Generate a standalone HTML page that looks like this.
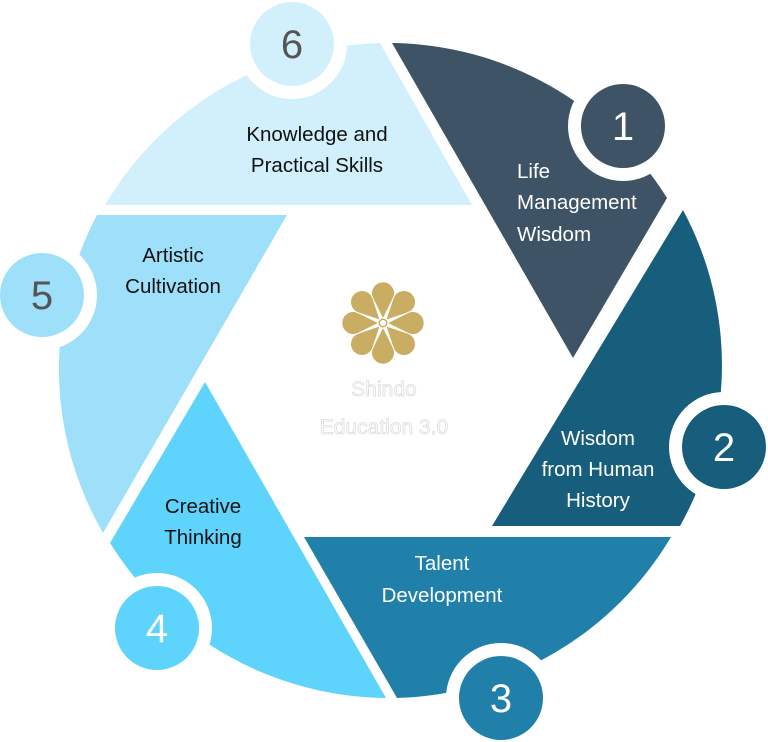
<!DOCTYPE html>
<html><head><meta charset="utf-8"><style>
html,body{margin:0;padding:0;background:#fff;}
svg{display:block}
text{font-family:"Liberation Sans",sans-serif;}
</style></head><body>
<svg width="768" height="742" viewBox="0 0 768 742" xmlns="http://www.w3.org/2000/svg">
<path d="M392,43 A329,329 0 0 1 667,198 L573,358 Z" fill="#3e5365"/>
<path d="M683,210 A329,329 0 0 1 680,526 L492,526 Z" fill="#165e7c"/>
<path d="M671,537 A329,329 0 0 1 397,698 L304,537 Z" fill="#2180aa"/>
<path d="M386,698 A329,329 0 0 1 110,543 L205,382 Z" fill="#5ed3fb"/>
<path d="M103,533 A329,329 0 0 1 97,215 L287,215 Z" fill="#9ee0fa"/>
<path d="M105,205 A329,329 0 0 1 380,43 L472,205 Z" fill="#d2f0fc"/>
<g>
<circle cx="623" cy="126" r="55" fill="#fff"/><circle cx="623" cy="126" r="42" fill="#3e5365"/>
<circle cx="724" cy="447" r="55" fill="#fff"/><circle cx="724" cy="447" r="42" fill="#165e7c"/>
<circle cx="501" cy="698" r="55" fill="#fff"/><circle cx="501" cy="698" r="42" fill="#2180aa"/>
<circle cx="157" cy="628" r="55" fill="#fff"/><circle cx="157" cy="628" r="42" fill="#5ed3fb"/>
<circle cx="42" cy="295" r="55" fill="#fff"/><circle cx="42" cy="295" r="42" fill="#9ee0fa"/>
<circle cx="292" cy="44" r="55" fill="#fff"/><circle cx="292" cy="44" r="42" fill="#d2f0fc"/>
</g>
<g font-size="40" text-anchor="middle">
<text x="623" y="140" fill="#fff">1</text>
<text x="724" y="461" fill="#fff">2</text>
<text x="501" y="712" fill="#fff">3</text>
<text x="157" y="642" fill="#fff">4</text>
<text x="42" y="309" fill="#555">5</text>
<text x="292" y="58" fill="#555">6</text>
</g>
<g font-size="20.5" text-anchor="middle" fill="#111">
<text x="317" y="141">Knowledge and</text>
<text x="317" y="172">Practical Skills</text>
<text x="173" y="262">Artistic</text>
<text x="173" y="293">Cultivation</text>
<text x="203" y="513">Creative</text>
<text x="203" y="544">Thinking</text>
</g>
<g font-size="20.5" fill="#fff">
<text x="517" y="178">Life</text>
<text x="517" y="209">Management</text>
<text x="517" y="241">Wisdom</text>
<g text-anchor="middle">
<text x="598" y="445">Wisdom</text>
<text x="598" y="476">from Human</text>
<text x="598" y="507">History</text>
<text x="442" y="570">Talent</text>
<text x="442" y="602">Development</text>
</g>
</g>
<g transform="translate(383,323)" fill="#c9ad63" stroke="#fff" stroke-width="1">
<defs><path id="p" d="M0,-4 L-10.5,-25 A11.5,11.5 0 1 1 10.5,-25 Z"/></defs>
<use href="#p"/>
<use href="#p" transform="rotate(45)"/><use href="#p" transform="rotate(90)"/><use href="#p" transform="rotate(135)"/>
<use href="#p" transform="rotate(180)"/><use href="#p" transform="rotate(225)"/><use href="#p" transform="rotate(270)"/><use href="#p" transform="rotate(315)"/>
<circle r="5" fill="#c9ad63"/><circle r="3" fill="#fff" stroke="none"/>
</g>
<g font-size="21" text-anchor="middle" fill="#fff" stroke="#ddd" stroke-width="0.8">
<text x="384" y="396">Shindo</text>
<text x="384" y="434">Education 3.0</text>
</g>
</svg>
</body></html>
